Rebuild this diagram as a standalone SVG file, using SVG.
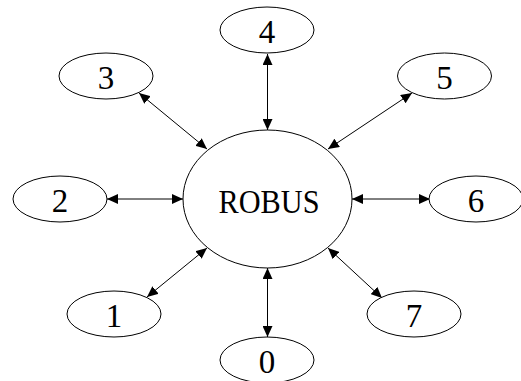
<svg xmlns="http://www.w3.org/2000/svg" width="521" height="381" viewBox="0 0 521 381">
<style>
.n ellipse{fill:#fff;stroke:#000;stroke-width:1}
.n text{font-family:"Liberation Serif","Times New Roman",serif;font-size:33px;fill:#000;text-anchor:middle}
#edges line{stroke:#000;stroke-width:1;marker-start:url(#ah);marker-end:url(#ah)}
</style>
<defs>
<marker id="ah" markerUnits="userSpaceOnUse" markerWidth="12" markerHeight="10" refX="11" refY="5" orient="auto-start-reverse" viewBox="0 0 12 10">
<path d="M0,0 L11,5 L0,10 z" fill="#000"/>
</marker>
</defs>
<rect width="521" height="381" fill="#fff"/>
<g id="edges">
<line x1="207" y1="149" x2="139" y2="93"/>
<line x1="267.5" y1="130" x2="267.5" y2="54"/>
<line x1="328" y1="149" x2="412" y2="93"/>
<line x1="183" y1="199" x2="107" y2="199"/>
<line x1="352" y1="199" x2="430" y2="199"/>
<line x1="207" y1="248" x2="147" y2="297"/>
<line x1="328" y1="248" x2="382" y2="298"/>
<line x1="267.5" y1="268" x2="267.5" y2="337"/>
</g>
<g id="robus" class="n"><ellipse cx="267.5" cy="199" rx="84.5" ry="69"/><text x="269" y="213" textLength="101" lengthAdjust="spacingAndGlyphs">ROBUS</text></g>
<g id="n4" class="n"><ellipse cx="267" cy="30" rx="47" ry="23"/><text x="267" y="43">4</text></g>
<g id="n3" class="n"><ellipse cx="106" cy="76" rx="47" ry="23"/><text x="106" y="89">3</text></g>
<g id="n5" class="n"><ellipse cx="444.5" cy="76" rx="47" ry="23"/><text x="444.5" y="89">5</text></g>
<g id="n2" class="n"><ellipse cx="60" cy="199" rx="47" ry="23"/><text x="60" y="212">2</text></g>
<g id="n6" class="n"><ellipse cx="476" cy="199" rx="47" ry="23"/><text x="476" y="212">6</text></g>
<g id="n1" class="n"><ellipse cx="114" cy="314" rx="47" ry="23"/><text x="114" y="327">1</text></g>
<g id="n7" class="n"><ellipse cx="414" cy="314" rx="47" ry="23"/><text x="414" y="327">7</text></g>
<g id="n0" class="n"><ellipse cx="267" cy="360" rx="47" ry="23"/><text x="267" y="373">0</text></g>
</svg>
